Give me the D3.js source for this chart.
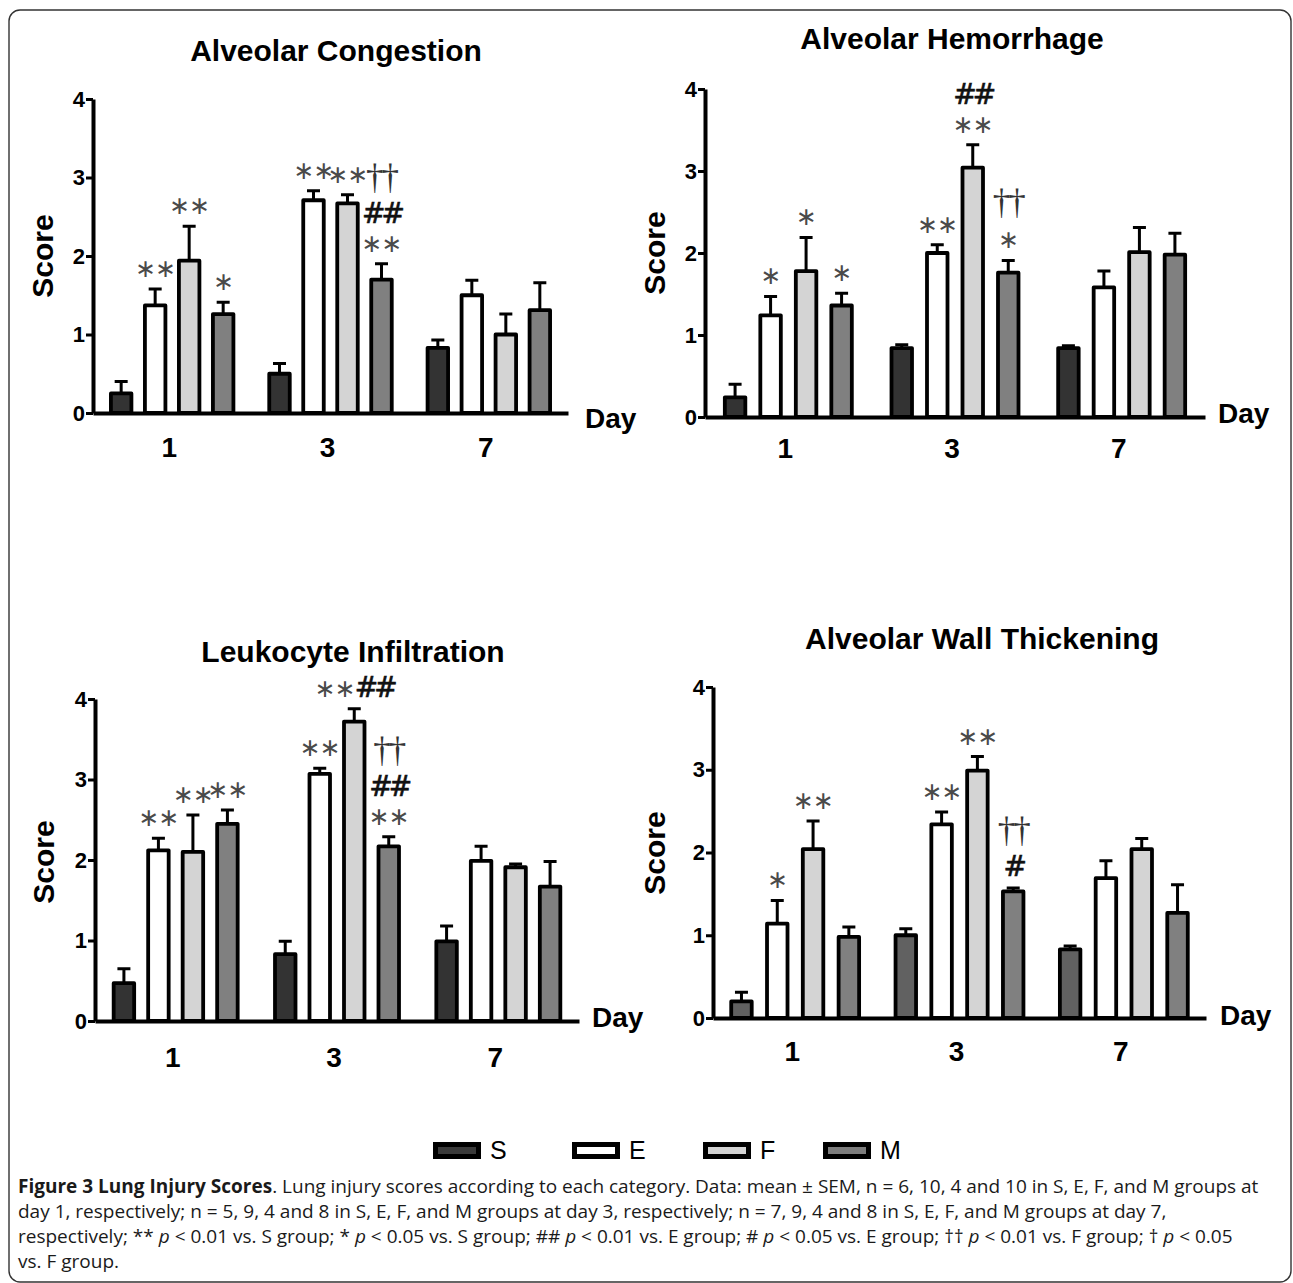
<!DOCTYPE html>
<html><head><meta charset="utf-8">
<script src="https://cdn.jsdelivr.net/npm/d3@7"></script>
<style>body{margin:0;background:#fff}</style>
</head><body><svg id="c" width="1293" height="1283"></svg>
<script>
// ---------- data ----------
const days = ["1", "3", "7"];
const groups = ["S", "E", "F", "M"];
const yTicks = [0, 1, 2, 3, 4];
const panelTitles = ["Alveolar Congestion", "Alveolar Hemorrhage", "Leukocyte Infiltration", "Alveolar Wall Thickening"];

// rows: S, E, F, M ; columns: day 1, 3, 7
const congestionMean = [[0.25, 0.50, 0.83], [1.37, 2.71, 1.50], [1.94, 2.67, 1.00], [1.26, 1.70, 1.31]];
const congestionSem  = [[0.15, 0.13, 0.10], [0.21, 0.12, 0.19], [0.44, 0.11, 0.26], [0.15, 0.20, 0.35]];
const hemorrhageMean = [[0.24, 0.84, 0.84], [1.24, 2.00, 1.58], [1.78, 3.04, 2.01], [1.36, 1.76, 1.98]];
const hemorrhageSem  = [[0.16, 0.04, 0.03], [0.23, 0.10, 0.20], [0.41, 0.28, 0.30], [0.15, 0.15, 0.26]];
const leukocyteMean  = [[0.47, 0.83, 0.99], [2.12, 3.07, 1.99], [2.10, 3.72, 1.91], [2.45, 2.17, 1.67]];
const leukocyteSem   = [[0.18, 0.16, 0.19], [0.15, 0.07, 0.18], [0.46, 0.16, 0.04], [0.17, 0.12, 0.31]];
const wallMean       = [[0.20, 1.00, 0.83], [1.14, 2.34, 1.69], [2.04, 2.99, 2.04], [0.98, 1.53, 1.27]];
const wallSem        = [[0.11, 0.08, 0.04], [0.28, 0.15, 0.21], [0.34, 0.17, 0.13], [0.12, 0.04, 0.34]];

// significance marks: [day, group, lines top→bottom]
const congestionMarks = [["1","E",["∗∗"]],["1","F",["∗∗"]],["1","M",["∗"]],["3","E",["∗∗"]],["3","F",["∗∗"]],["3","M",["††","##","∗∗"]]];
const hemorrhageMarks = [["1","E",["∗"]],["1","F",["∗"]],["1","M",["∗"]],["3","E",["∗∗"]],["3","F",["##","∗∗"]],["3","M",["††","∗"]]];
const leukocyteMarks  = [["1","E",["∗∗"]],["1","F",["∗∗"]],["1","M",["∗∗"]],["3","E",["∗∗"]],["3","F",["∗∗##"]],["3","M",["††","##","∗∗"]]];
const wallMarks       = [["1","E",["∗"]],["1","F",["∗∗"]],["3","E",["∗∗"]],["3","F",["∗∗"]],["3","M",["††","#"]]];

const legendLabels = ["S", "E", "F", "M"];

// ---------- styles / layout ----------
const fillDefault = {S: "#333333", E: "#ffffff", F: "#d4d4d4", M: "#808080"};
const fillWall = {S: "#616161", E: "#ffffff", F: "#d4d4d4", M: "#808080"};
const legendFill = {S: "#3a3a3a", E: "#ffffff", F: "#d3d3d3", M: "#7d7d7d"};

const panels = [
  {mean: congestionMean, sem: congestionSem, marks: congestionMarks, fills: fillDefault,
   x0: 93, x1: 568, y0: 413, y4: 99, pitch: 34, title: [336, 61], day: [585, 428], score: [42, 256], pad: 24},
  {mean: hemorrhageMean, sem: hemorrhageSem, marks: hemorrhageMarks, fills: fillDefault,
   x0: 705, x1: 1205, y0: 417, y4: 89, pitch: 35.5, title: [952, 49], day: [1218, 423], score: [654, 253], pad: 21},
  {mean: leukocyteMean, sem: leukocyteSem, marks: leukocyteMarks, fills: fillDefault,
   x0: 95, x1: 579, y0: 1021, y4: 699, pitch: 34.5, title: [353, 662], day: [592, 1027], score: [43, 862], pad: 26},
  {mean: wallMean, sem: wallSem, marks: wallMarks, fills: fillWall,
   x0: 713, x1: 1206, y0: 1018, y4: 687, pitch: 35.8, title: [982, 649], day: [1220, 1025], score: [654, 853], pad: 23}
];

const svg = d3.select("#c");
svg.append("rect").attr("width", 1293).attr("height", 1283).attr("fill", "#fff");
svg.append("rect").attr("x", 9).attr("y", 10).attr("width", 1282).attr("height", 1272)
  .attr("rx", 11).attr("fill", "none").attr("stroke", "#333").attr("stroke-width", 1.4);

const barW = 20.5;

panels.forEach((P, pi) => {
  const g = svg.append("g");
  const y = d3.scaleLinear().domain([0, 4]).range([P.y0, P.y4]);
  const x = d3.scaleBand().domain(days).range([P.x0, P.x1]);
  const xs = d3.scalePoint().domain(groups).range([-1.5 * P.pitch, 1.5 * P.pitch]);
  const cx = (d, grp) => x(d) + x.bandwidth() / 2 + xs(grp);

  g.append("text").attr("x", P.title[0]).attr("y", P.title[1]).attr("text-anchor", "middle")
    .attr("font-family", "Liberation Sans, Arial, sans-serif").attr("font-weight", "bold")
    .attr("font-size", 30).text(panelTitles[pi]);

  const data = [];
  groups.forEach((grp, gi) => days.forEach((d, di) => data.push({grp, d, v: P.mean[gi][di], e: P.sem[gi][di]})));

  const eb = g.append("g").attr("stroke", "#000").attr("stroke-width", 3).attr("fill", "none");
  eb.selectAll("path").data(data).join("path")
    .attr("d", r => {
      const c = cx(r.d, r.grp), t = y(r.v + r.e);
      return `M${c},${y(r.v)}V${t}M${c - 6.5},${t}H${c + 6.5}`;
    });

  g.append("g").selectAll("rect").data(data).join("rect")
    .attr("x", r => cx(r.d, r.grp) - barW / 2)
    .attr("y", r => y(r.v))
    .attr("width", barW)
    .attr("height", r => P.y0 - y(r.v))
    .attr("fill", r => P.fills[r.grp])
    .attr("stroke", "#000").attr("stroke-width", 3.8).attr("stroke-linejoin", "round");

  const ya = g.append("g").attr("transform", `translate(${P.x0},0)`)
    .call(d3.axisLeft(y).tickValues(yTicks).tickSize(7).tickSizeOuter(0).tickPadding(1).tickFormat(d3.format("d")));
  ya.select(".domain").attr("stroke-width", 4).attr("stroke", "#000");
  ya.selectAll(".tick line").attr("stroke-width", 3).attr("stroke", "#000");
  ya.selectAll(".tick text").attr("font-family", "Liberation Sans, Arial, sans-serif")
    .attr("font-weight", "bold").attr("font-size", 22).attr("fill", "#000");

  const xa = g.append("g").attr("transform", `translate(0,${P.y0})`)
    .call(d3.axisBottom(x).tickSize(0).tickSizeOuter(0).tickPadding(P.pad));
  xa.select(".domain").attr("stroke-width", 4).attr("stroke", "#000");
  xa.selectAll(".tick text").attr("font-family", "Liberation Sans, Arial, sans-serif")
    .attr("font-weight", "bold").attr("font-size", 28).attr("fill", "#000").attr("dx", -3);

  g.append("text").attr("x", P.day[0]).attr("y", P.day[1])
    .attr("font-family", "Liberation Sans, Arial, sans-serif").attr("font-weight", "bold")
    .attr("font-size", 28).text("Day");

  g.append("text").attr("transform", `translate(${P.score[0]},${P.score[1]}) rotate(-90)`)
    .attr("text-anchor", "middle").attr("dy", "0.36em")
    .attr("font-family", "Liberation Sans, Arial, sans-serif").attr("font-weight", "bold")
    .attr("font-size", 30).text("Score");

  P.marks.forEach(([d, grp, lines]) => {
    const gi = groups.indexOf(grp), di = days.indexOf(d);
    const c = cx(d, grp);
    let cy = y(P.mean[gi][di] + P.sem[gi][di]) - 21;
    for (let li = lines.length - 1; li >= 0; li--) {
      const str = lines[li];
      const t = g.append("text").attr("x", c).attr("y", cy + 9).attr("text-anchor", "middle");
      const runs = str.match(/(∗+|#+|†+)/g);
      runs.forEach(run => {
        const ts = t.append("tspan").text(run);
        if (run[0] === "∗") ts.attr("font-family", "DejaVu Sans").attr("font-size", 25)
          .attr("letter-spacing", -1).attr("fill", "#4a4a4a");
        else if (run[0] === "#") ts.attr("font-family", "DejaVu Sans").attr("font-size", 28)
          .attr("letter-spacing", -4).attr("fill", "#111").attr("stroke", "#111").attr("stroke-width", 0.6);
        else ts.attr("font-family", "Liberation Serif").attr("font-size", 35)
          .attr("letter-spacing", -2).attr("fill", "#333");
      });
      if (li > 0) cy -= (lines[li - 1][0] === "†") ? 34 : 29;
    }
  });
});

const legendX = [433, 572, 703, 823];
const lg = svg.append("g");
legendLabels.forEach((lab, i) => {
  lg.append("rect").attr("x", legendX[i] + 2.5).attr("y", 1144.5).attr("width", 43).attr("height", 12)
    .attr("fill", legendFill[lab]).attr("stroke", "#000").attr("stroke-width", 5);
  lg.append("text").attr("x", legendX[i] + 57).attr("y", 1159)
    .attr("font-family", "Liberation Sans, Arial, sans-serif").attr("font-size", 25).text(lab);
});

const captionLines = [
  [["b", "Figure 3 Lung Injury Scores"], ["n", ". Lung injury scores according to each category. Data: mean ± SEM, n = 6, 10, 4 and 10 in S, E, F, and M groups at"]],
  [["n", "day 1, respectively; n = 5, 9, 4 and 8 in S, E, F, and M groups at day 3, respectively; n = 7, 9, 4 and 8 in S, E, F, and M groups at day 7,"]],
  [["n", "respectively; ** "], ["i", "p"], ["n", " < 0.01 vs. S group; * "], ["i", "p"], ["n", " < 0.05 vs. S group; ## "], ["i", "p"], ["n", " < 0.01 vs. E group; # "], ["i", "p"], ["n", " < 0.05 vs. E group; †† "], ["i", "p"], ["n", " < 0.01 vs. F group; † "], ["i", "p"], ["n", " < 0.05"]],
  [["n", "vs. F group."]]
];
const cap = svg.append("g").attr("font-family", "Open Sans, sans-serif").attr("font-size", 19).attr("fill", "#1a1a1a");
captionLines.forEach((parts, li) => {
  const t = cap.append("text").attr("x", 18).attr("y", 1193 + li * 25).attr("xml:space", "preserve");
  parts.forEach(([k, s]) => {
    const ts = t.append("tspan").text(s);
    if (k === "b") ts.attr("font-weight", "bold");
    if (k === "i") ts.attr("font-style", "italic");
  });
});
</script></body></html>
